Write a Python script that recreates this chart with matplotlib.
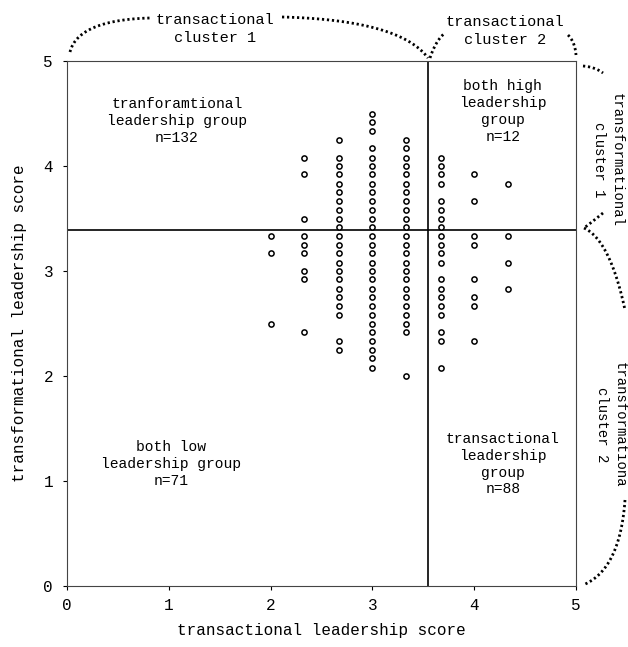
import numpy as np
import matplotlib
matplotlib.use("Agg")
import matplotlib.pyplot as plt
from matplotlib.lines import Line2D

plt.rcParams['font.family'] = ['Liberation Mono', 'DejaVu Sans']

# column positions (transactional score) and the transformational scores in each column
x_cols = [2.0, 2.33, 2.67, 3.0, 3.33, 3.67, 4.0, 4.33]
y_cols = [
    [3.33, 3.17, 2.5],
    [4.08, 3.92, 3.5, 3.33, 3.25, 3.17, 3.0, 2.92, 2.42],
    [4.25, 4.08, 4.0, 3.92, 3.83, 3.75, 3.67, 3.58, 3.5, 3.42, 3.33, 3.25, 3.17,
     3.08, 3.0, 2.92, 2.83, 2.75, 2.67, 2.58, 2.33, 2.25],
    [4.5, 4.42, 4.33, 4.17, 4.08, 4.0, 3.92, 3.83, 3.75, 3.67, 3.58, 3.5, 3.42,
     3.33, 3.25, 3.17, 3.08, 3.0, 2.92, 2.83, 2.75, 2.67, 2.58, 2.5, 2.42, 2.33,
     2.25, 2.17, 2.08],
    [4.25, 4.17, 4.08, 4.0, 3.92, 3.83, 3.75, 3.67, 3.58, 3.5, 3.42, 3.33, 3.25,
     3.17, 3.08, 3.0, 2.92, 2.83, 2.75, 2.67, 2.58, 2.5, 2.42, 2.0],
    [4.08, 4.0, 3.92, 3.83, 3.67, 3.58, 3.5, 3.42, 3.33, 3.25, 3.17, 3.08, 2.92,
     2.83, 2.75, 2.67, 2.58, 2.42, 2.33, 2.08],
    [3.92, 3.67, 3.33, 3.25, 2.92, 2.75, 2.67, 2.33],
    [3.83, 3.33, 3.08, 2.83],
]

cut_x = 3.55   # transactional cluster split
cut_y = 3.39   # transformational cluster split

groups = [
    (1.08, 4.43, "tranforamtional\nleadership group\nn=132"),
    (4.28, 4.52, "both high\nleadership\ngroup\nn=12"),
    (1.02, 1.16, "both low\nleadership group\nn=71"),
    (4.28, 1.16, "transactional\nleadership\ngroup\nn=88"),
]

W, H = 628, 647
fig = plt.figure(figsize=(W / 100, H / 100), dpi=100)
ax = fig.add_axes([67 / W, 1 - 586 / H, (576 - 67) / W, (586 - 61) / H])

xs = np.concatenate([[x] * len(ys) for x, ys in zip(x_cols, y_cols)])
ys = np.concatenate(y_cols)
ax.scatter(xs, ys, s=14, facecolors='white', edgecolors='black', linewidths=1.1, zorder=3)

ax.axhline(cut_y, color='black', lw=1.2, zorder=2)
ax.axvline(cut_x, color='black', lw=1.2, zorder=2)

for x, y, txt in groups:
    ax.text(x, y, txt, ha='center', va='center', fontsize=10.5, linespacing=1.25)

ax.set_xlim(0, 5)
ax.set_ylim(0, 5)
ax.set_xticks(range(6))
ax.set_yticks(range(6))
ax.tick_params(direction='out', length=3, width=0.8, labelsize=11.5, colors='black')
ax.tick_params(axis='x', pad=6)
ax.tick_params(axis='y', pad=7)
for sp in ax.spines.values():
    sp.set_linewidth(0.8)
    sp.set_color('#444444')
ax.set_xlabel('transactional leadership score', fontsize=11.5, labelpad=7)
ax.set_ylabel('transformational leadership score', fontsize=11.5, labelpad=12)

# cluster labels outside the frame
fig.text(215 / W, 1 - 29 / H, "transactional\ncluster 1", ha='center', va='center', fontsize=11, linespacing=1.3)
fig.text(505 / W, 1 - 31 / H, "transactional\ncluster 2", ha='center', va='center', fontsize=11, linespacing=1.3)
fig.text(608 / W, 1 - 160 / H, "transformational\ncluster 1", ha='center', va='center', fontsize=10,
         rotation=270, linespacing=1.3)
fig.text(611 / W, 1 - 425 / H, "transformationa\ncluster 2", ha='center', va='center', fontsize=10,
         rotation=270, linespacing=1.3)


def brace(p0, p1, p2):
    t = np.linspace(0, 1, 40)
    bx = (1 - t) ** 2 * p0[0] + 2 * (1 - t) * t * p1[0] + t ** 2 * p2[0]
    by = (1 - t) ** 2 * p0[1] + 2 * (1 - t) * t * p1[1] + t ** 2 * p2[1]
    fig.add_artist(Line2D(bx / W, 1 - by / H, transform=fig.transFigure, color='black',
                          lw=2.0, linestyle=(0, (0.8, 1.0))))


brace((70, 52), (78, 20), (150, 18))
brace((282, 17), (400, 20), (428, 58))
brace((430, 58), (436, 40), (445, 33))
brace((568, 35), (575, 42), (576, 55))
brace((583, 66), (595, 67), (603, 73))
brace((603, 213), (592, 222), (584, 228))
brace((584, 228), (610, 240), (625, 310))
brace((625, 500), (620, 570), (583, 585))

fig.savefig("out.png", dpi=100, facecolor='white')
